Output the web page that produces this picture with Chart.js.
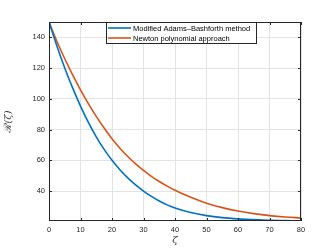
<!DOCTYPE html>
<html lang="en">
<head>
  <meta charset="UTF-8" />
  <title>R(zeta) comparison</title>
  <style>
    body { margin: 0; background: #fff; }
    #wrap { width: 317px; height: 248px; }
  </style>
</head>
<body>
  <div id="wrap"><canvas id="chart" width="317" height="248"></canvas></div>

  <script src="https://cdn.jsdelivr.net/npm/chart.js"></script>
  <script>
    // values
    const zeta = [0, 2.5, 5, 7.5, 10, 12.5, 15, 17.5, 20, 22.5, 25, 27.5, 30, 32.5, 35, 37.5, 40, 45, 50, 55, 60, 65, 70, 75, 80];
    const adamsBashforth = [150, 134.4, 120.1, 107.1, 95.3, 84.7, 75.3, 67.1, 60, 53.9, 48.6, 44, 40, 36.5, 33.5, 31, 29, 26, 24, 22.7, 21.9, 21.4, 21, 20.8, 20.6];
    const newtonPoly = [150, 137.5, 126.1, 115.6, 105.9, 96.9, 88.6, 81, 74, 67.9, 62.5, 57.7, 53.4, 49.6, 46.2, 43.2, 40.5, 35.9, 32.1, 29.2, 27, 25.3, 24, 23.1, 22.5];
    const seriesNames = ['Modified Adams\u2013Bashforth method', 'Newton polynomial approach'];
    const xTicks = [0, 10, 20, 30, 40, 50, 60, 70, 80];
    const yTicks = [40, 60, 80, 100, 120, 140];

    const BLUE = '#0072BD';
    const ORANGE = '#D95319';
    const AXIS = '#262626';
    const tickFont = { family: 'Liberation Sans, Arial, sans-serif', size: 7.5 };

    const pts = (ys) => zeta.map((x, i) => ({ x: x, y: ys[i] }));

    // box, inside ticks and legend, matlab style
    const framePlugin = {
      id: 'frame',
      afterDraw(chart) {
        const c = chart.ctx;
        const a = chart.chartArea;
        const xs = chart.scales.x, ys = chart.scales.y;
        c.save();
        c.strokeStyle = AXIS;
        c.lineWidth = 1;
        c.strokeRect(a.left + 0.5, a.top + 0.5, a.right - a.left - 1, a.bottom - a.top - 1);
        c.beginPath();
        xTicks.forEach(v => {
          const px = Math.round(xs.getPixelForValue(v)) + 0.5;
          c.moveTo(px, a.bottom); c.lineTo(px, a.bottom - 3);
          c.moveTo(px, a.top); c.lineTo(px, a.top + 3);
        });
        yTicks.forEach(v => {
          const py = Math.round(ys.getPixelForValue(v)) + 0.5;
          c.moveTo(a.left, py); c.lineTo(a.left + 3, py);
          c.moveTo(a.right, py); c.lineTo(a.right - 3, py);
        });
        c.stroke();

        // legend
        const lx = 106, ly = a.top, lw = 150, lh = 21;
        c.fillStyle = '#fff';
        c.fillRect(lx, ly, lw, lh);
        c.strokeRect(lx + 0.5, ly + 0.5, lw, lh);
        c.font = '7.5px Liberation Sans, Arial, sans-serif';
        c.textBaseline = 'middle';
        chart.data.datasets.forEach((ds, i) => {
          const y = ly + 6 + i * 10;
          c.strokeStyle = ds.borderColor;
          c.lineWidth = 1.6;
          c.beginPath();
          c.moveTo(lx + 2, y); c.lineTo(lx + 25, y);
          c.stroke();
          c.fillStyle = '#000';
          c.fillText(ds.label, lx + 27, y + 0.5);
        });
        c.restore();
      }
    };

    new Chart(document.getElementById('chart'), {
      type: 'line',
      data: {
        datasets: [
          { label: seriesNames[0], data: pts(adamsBashforth), borderColor: BLUE, borderWidth: 1.6, pointRadius: 0, cubicInterpolationMode: 'monotone', fill: false },
          { label: seriesNames[1], data: pts(newtonPoly), borderColor: ORANGE, borderWidth: 1.6, pointRadius: 0, cubicInterpolationMode: 'monotone', fill: false }
        ]
      },
      options: {
        responsive: false,
        animation: false,
        layout: { padding: { left: 0, right: 16, top: 22, bottom: 0 } },
        plugins: { legend: { display: false }, tooltip: { enabled: false } },
        scales: {
          x: {
            type: 'linear',
            min: 0, max: 80,
            afterBuildTicks: (s) => { s.ticks = xTicks.map(v => ({ value: v })); },
            afterFit: (s) => { s.height = 27; },
            grid: { color: '#e3e3e3', drawTicks: false },
            border: { display: false },
            ticks: { color: AXIS, font: tickFont, padding: 4, maxRotation: 0 },
            title: { display: true, text: '\u03B6', color: '#333', font: { family: 'DejaVu Serif, serif', size: 10, style: 'italic' }, padding: { top: 0, bottom: 2 } }
          },
          y: {
            min: 20.5, max: 150,
            afterBuildTicks: (s) => { s.ticks = yTicks.map(v => ({ value: v })); },
            afterFit: (s) => { s.width = 49; },
            grid: { color: '#e3e3e3', drawTicks: false },
            border: { display: false },
            ticks: { color: AXIS, font: tickFont, padding: 4 },
            title: { display: true, text: '\u211B(\u03B6)', color: '#333', font: { family: 'DejaVu Serif, serif', size: 10, style: 'italic' }, padding: { top: 2, bottom: 0 } }
          }
        }
      },
      plugins: [framePlugin]
    });
  </script>
</body>
</html>
